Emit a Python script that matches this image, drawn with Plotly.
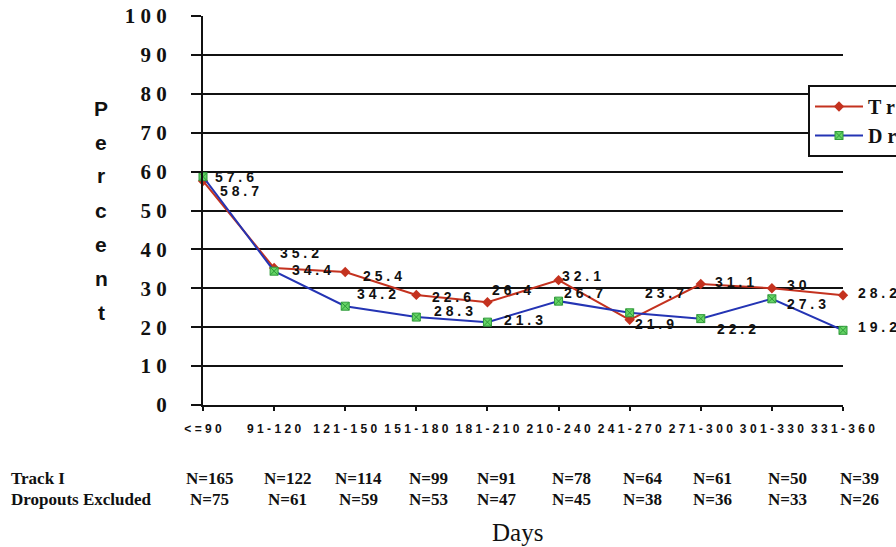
import plotly.graph_objects as go

# ---------------- data ----------------
categories = ["<=90", "91-120", "121-150", "151-180", "181-210",
              "210-240", "241-270", "271-300", "301-330", "331-360"]
track_i = [57.6, 35.2, 34.2, 28.3, 26.4, 32.1, 21.9, 31.1, 30.0, 28.2]
dropouts_excluded = [58.7, 34.4, 25.4, 22.6, 21.3, 26.7, 23.7, 22.2, 27.3, 19.2]
track_i_labels = ["57.6", "35.2", "34.2", "28.3", "26.4", "32.1", "21.9", "31.1", "30", "28.2"]
dropouts_labels = ["58.7", "34.4", "25.4", "22.6", "21.3", "26.7", "23.7", "22.2", "27.3", "19.2"]
n_track_i = [165, 122, 114, 99, 91, 78, 64, 61, 50, 39]
n_dropouts = [75, 61, 59, 53, 47, 45, 38, 36, 33, 26]
y_ticks = [0, 10, 20, 30, 40, 50, 60, 70, 80, 90, 100]
series_names = ["Track I", "Dropouts Excluded"]
y_title = "Percent"
x_title = "Days"

# ---------------- styling ----------------
RED = "#c4321f"
BLUE = "#2434b4"
GREEN = "#66d466"
GREEN_DARK = "#2f9a3a"
SERIF = "Liberation Serif, Times New Roman, serif"
SANS = "Liberation Sans, Arial, sans-serif"

W, H = 896, 547
L, R, T, B = 203, 53, 16, 142
PW, PH = W - L - R, H - T - B


def spaced(s, sep=" "):
    return sep.join(list(s))


def px_to_paper_y(py):
    return (H - B - py) / PH


def px_to_paper_x(px):
    return (px - L) / PW


xs = list(range(len(categories)))

fig = go.Figure()
fig.add_trace(go.Scatter(
    x=xs, y=track_i, mode="lines+markers", name=spaced("Track") + "  I",
    line=dict(color=RED, width=2),
    marker=dict(symbol="diamond", size=8, color=RED),
    cliponaxis=False,
))
fig.add_trace(go.Scatter(
    x=xs, y=dropouts_excluded, mode="lines+markers",
    name=spaced("Dropouts") + "  " + spaced("Excluded"),
    line=dict(color=BLUE, width=2),
    marker=dict(symbol="square-x", size=8, color=GREEN,
                line=dict(color=GREEN_DARK, width=1)),
    cliponaxis=False,
))

# data labels (pixel offsets relative to each point)
red_shift = [(10, 4), (4, 15), (10, -22), (16, -16), (3, 12),
             (1, 4), (3, -4), (12, 2), (13, 3), (13, 2)]
blue_shift = [(15, -14), (16, 1), (16, 30), (14, 20), (15, 2),
              (3, 8), (13, 20), (14, -10), (13, -5), (13, 3)]

annotations = []
for vals, labels, shifts in ((track_i, track_i_labels, red_shift),
                             (dropouts_excluded, dropouts_labels, blue_shift)):
    for i, (v, lab, (dx, dy)) in enumerate(zip(vals, labels, shifts)):
        annotations.append(dict(
            x=i, y=v, xref="x", yref="y", text=spaced(lab),
            showarrow=False, xanchor="left", yanchor="middle",
            xshift=dx, yshift=dy,
            font=dict(family=SANS, size=14, color="#111111", weight="bold"),
        ))

# y-axis title: vertical stacked letters
for k, ch in enumerate(y_title):
    annotations.append(dict(
        x=px_to_paper_x(101), y=px_to_paper_y(108 + 34 * k),
        xref="paper", yref="paper", text=ch, showarrow=False,
        xanchor="center", yanchor="middle",
        font=dict(family=SANS, size=21, color="#111111", weight="bold"),
    ))

# N table below the axis
n_shift = [6, 13, 13, 12, 9, 13, 13, 12, 16, 16]
row_y = [478, 499]
for r, (label, ns) in enumerate(zip(series_names, (n_track_i, n_dropouts))):
    annotations.append(dict(
        x=px_to_paper_x(9), y=px_to_paper_y(row_y[r]),
        xref="paper", yref="paper", text=label, showarrow=False,
        xanchor="left", yanchor="middle",
        font=dict(family=SERIF, size=17, color="#111111", weight="bold"),
    ))
    for i, n in enumerate(ns):
        annotations.append(dict(
            x=i, y=px_to_paper_y(row_y[r]), xref="x", yref="paper",
            text=f"N={n}", showarrow=False, xanchor="center",
            yanchor="middle", xshift=n_shift[i],
            font=dict(family=SERIF, size=17, color="#111111", weight="bold"),
        ))

annotations.append(dict(
    x=px_to_paper_x(517), y=px_to_paper_y(532), xref="paper", yref="paper",
    text=x_title, showarrow=False, xanchor="center", yanchor="middle",
    font=dict(family=SERIF, size=25, color="#111111"),
))

fig.update_layout(
    width=W, height=H,
    margin=dict(l=L, r=R, t=T, b=B, autoexpand=False),
    paper_bgcolor="white", plot_bgcolor="white",
    showlegend=True,
    legend=dict(
        x=px_to_paper_x(808), y=px_to_paper_y(85),
        xanchor="left", yanchor="top",
        bgcolor="white", bordercolor="#111111", borderwidth=2,
        font=dict(family=SERIF, size=20, color="#111111", weight="bold"),
        itemwidth=48, tracegroupgap=0,
    ),
    annotations=annotations,
    xaxis=dict(
        range=[0, len(categories) - 1],
        tickvals=xs, ticktext=[spaced(c) for c in categories],
        tickfont=dict(family=SANS, size=12, color="#111111", weight="bold"),
        showgrid=False, zeroline=False,
        showline=True, linecolor="#111111", linewidth=2,
        ticks="outside", ticklen=4, tickcolor="#111111", tickwidth=1.5,
        ticklabelstandoff=8,
        fixedrange=True,
    ),
    yaxis=dict(
        range=[0, 100],
        tickvals=y_ticks, ticktext=[spaced(str(t)) for t in y_ticks],
        tickfont=dict(family=SERIF, size=21, color="#111111", weight="bold"),
        showgrid=True, gridcolor="#111111", gridwidth=1.6,
        zeroline=False,
        showline=True, linecolor="#111111", linewidth=2,
        ticks="outside", ticklen=10, tickcolor="#111111", tickwidth=1.6,
        ticklabelstandoff=20,
        fixedrange=True,
    ),
)

fig.write_html(
    "out.html",
    config={"displayModeBar": False},
    post_script="document.body.style.margin='0px';document.body.style.overflow='hidden';",
)
